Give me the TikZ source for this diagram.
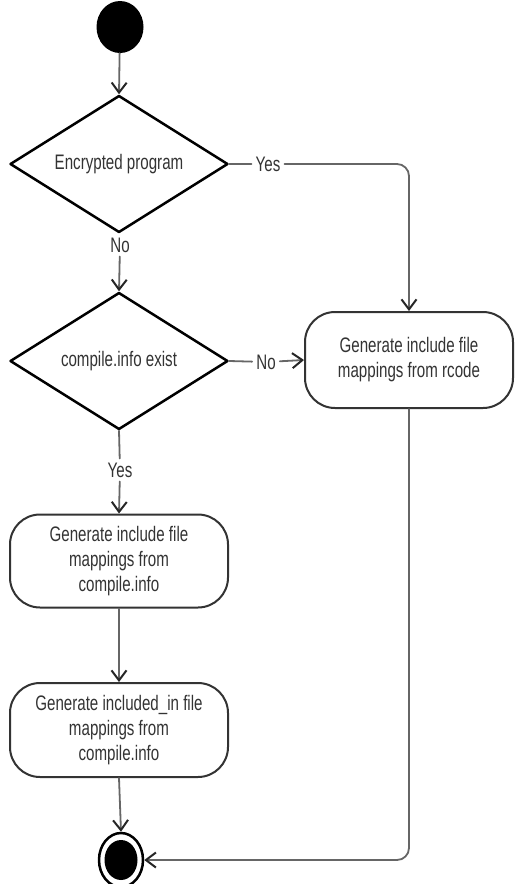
\documentclass[tikz,border=0pt]{standalone}
\usepackage{fontspec}
\setmainfont{Liberation Sans}[FakeStretch=0.72]
\usetikzlibrary{shapes.geometric,arrows.meta}
\begin{document}
\begin{tikzpicture}[x=1pt,y=-1pt,line cap=round,line join=round,
  >={Straight Barb[length=10pt,width=15pt,line width=2pt,color=black!85]},
  every node/.style={font=\fontsize{21}{25}\selectfont,text=black!80},
  dec/.style={diamond,aspect=1.6,draw=black,line width=2.5pt,minimum width=218pt,minimum height=137pt,inner sep=0pt},
  act/.style={rectangle,rounded corners=30pt,draw=black!80,line width=2pt,minimum width=218pt,minimum height=94pt,align=center},
  lab/.style={inner sep=4pt},
  flow/.style={draw=black!60,line width=1.8pt}]
\useasboundingbox (0,0) rectangle (515,884);
\node[ellipse,fill=black,inner sep=0pt,minimum width=47pt,minimum height=52pt] (start) at (120,27) {};
\node[dec] (enc) at (119,164) {Encrypted program};
\node[dec] (info) at (119,361) {compile.info exist};
\node[act,minimum width=208pt,minimum height=96pt] (rcode) at (409,360) {Generate include file\\mappings from rcode};
\node[act,minimum height=93pt] (incl) at (119,561) {Generate include file\\mappings from\\compile.info};
\node[act] (inclin) at (119,730) {Generate included\_in file\\mappings from\\compile.info};
\node[ellipse,draw=black,fill=white,line width=2.5pt,inner sep=0pt,minimum width=44pt,minimum height=54pt] (stop) at (121,860) {};
\node[ellipse,fill=black,inner sep=0pt,minimum width=33pt,minimum height=40pt] (stopdot) at (stop) {};
\node[lab] (yes1) at (268,164) {Yes};
\node[lab] (no1) at (120,245) {No};
\node[lab] (no2) at (266,362) {No};
\node[lab] (yes2) at (120,470) {Yes};
\draw[flow,->] (start) -- (enc.north);
\draw[flow] (enc.east) -- (yes1);
\draw[flow,->,rounded corners=12pt] (yes1) -| (rcode.north);
\draw[flow,->] (no1) -- (info.north);
\draw[flow] (info.east) -- (no2);
\draw[flow,->] (no2) -- (rcode.west);
\draw[flow] (info.south) -- (yes2);
\draw[flow,->] (yes2) -- (incl.north);
\draw[flow,->] (incl.south) -- (inclin.north);
\draw[flow,->] (inclin.south) -- (stop.north);
\draw[flow,->,rounded corners=12pt] (rcode.south) |- (stop.east);
\end{tikzpicture}
\end{document}
